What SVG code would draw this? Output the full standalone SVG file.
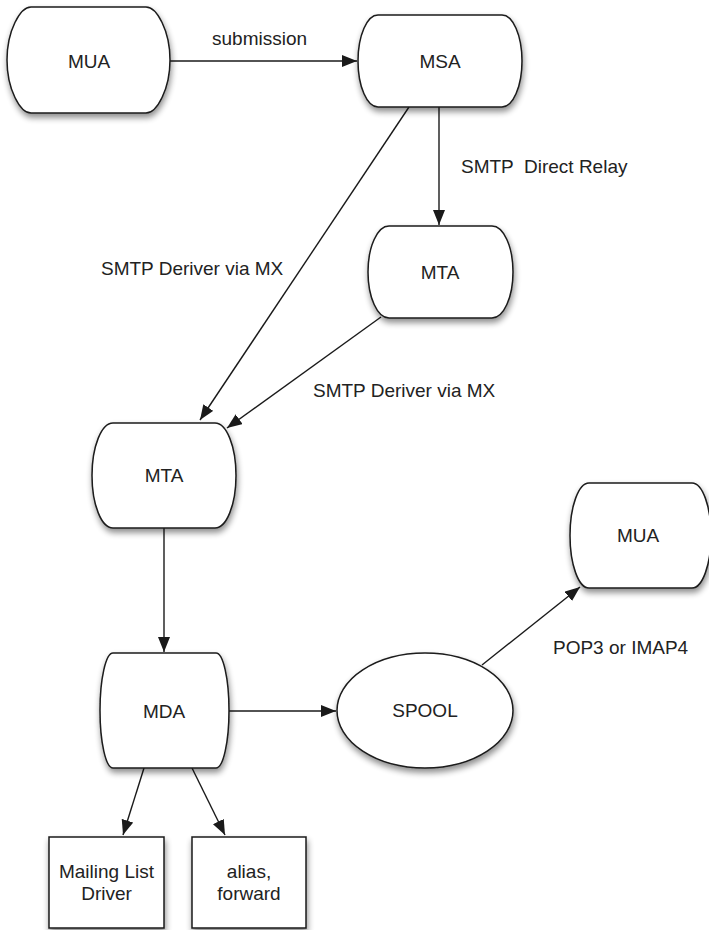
<svg xmlns="http://www.w3.org/2000/svg" width="709" height="930" viewBox="0 0 709 930">
<style>
.n{fill:#fff;stroke:#1a1a1a;stroke-width:1.5;filter:url(#sh)}
.t{font-family:"Liberation Sans",Arial,sans-serif;font-size:19px;fill:#222;text-anchor:middle}
.l{font-family:"Liberation Sans",Arial,sans-serif;font-size:19px;fill:#222}
.c{fill:none;stroke:#1a1a1a;stroke-width:1.4;marker-end:url(#ah)}
</style>
<defs>
<filter id="sh" x="-20%" y="-20%" width="140%" height="150%">
<feGaussianBlur in="SourceAlpha" stdDeviation="3"/>
<feOffset dx="1" dy="4" result="b"/>
<feComponentTransfer><feFuncA type="linear" slope="0.45"/></feComponentTransfer>
<feMerge><feMergeNode/><feMergeNode in="SourceGraphic"/></feMerge>
</filter>
<marker id="ah" markerUnits="userSpaceOnUse" markerWidth="16" markerHeight="13" refX="15" refY="6" orient="auto">
<path d="M0,0 L15,6 L0,12 Z" fill="#1a1a1a"/>
</marker>
</defs>
<rect width="709" height="930" fill="#fff"/>
<g id="connectors">
<line class="c" x1="170" y1="61" x2="357" y2="61"/>
<line class="c" x1="439" y1="107" x2="439" y2="225"/>
<line class="c" x1="409" y1="107" x2="200" y2="420"/>
<line class="c" x1="381" y1="317" x2="227" y2="428"/>
<line class="c" x1="164" y1="528" x2="164" y2="652"/>
<line class="c" x1="229" y1="711" x2="336" y2="711"/>
<line class="c" x1="482" y1="665" x2="580" y2="587"/>
<line class="c" x1="144" y1="768" x2="123" y2="835"/>
<line class="c" x1="192" y1="768" x2="225" y2="835"/>
</g>
<g id="mua1">
<path class="n" d="M31,7 H146 C156.8,7 170,30.7 170,60 C170,89.3 156.8,113 146,113 H31 C20.2,113 7,89.3 7,60 C7,30.7 20.2,7 31,7 Z"/>
<text class="t" x="89" y="68">MUA</text>
</g>
<g id="msa">
<path class="n" d="M378,15 H502 C513,15 522,35.6 522,61 C522,86.4 513,107 502,107 H378 C367,107 358,86.4 358,61 C358,35.6 367,15 378,15 Z"/>
<text class="t" x="440" y="68">MSA</text>
</g>
<g id="mta1">
<path class="n" d="M389,226 H492 C503.6,226 513,246.6 513,272 C513,297.4 503.6,318 492,318 H389 C377.4,318 368,297.4 368,272 C368,246.6 377.4,226 389,226 Z"/>
<text class="t" x="440" y="279">MTA</text>
</g>
<g id="mta2">
<path class="n" d="M113,423 H215 C226.6,423 236,446.5 236,475.5 C236,504.5 226.6,528 215,528 H113 C101.4,528 92,504.5 92,475.5 C92,446.5 101.4,423 113,423 Z"/>
<text class="t" x="164" y="482">MTA</text>
</g>
<g id="mda">
<path class="n" d="M113,653 H216 C223.2,653 229,678.8 229,710.5 C229,742.2 223.2,768 216,768 H113 C105.8,768 100,742.2 100,710.5 C100,678.8 105.8,653 113,653 Z"/>
<text class="t" x="164" y="718">MDA</text>
</g>
<g id="spool">
<ellipse class="n" cx="425" cy="710.5" rx="88" ry="57.5"/>
<text class="t" x="425" y="717">SPOOL</text>
</g>
<g id="mua2">
<path class="n" d="M589,483 H692 C702.5,483 711,506.5 711,535.5 C711,564.5 702.5,588 692,588 H589 C578.5,588 570,564.5 570,535.5 C570,506.5 578.5,483 589,483 Z"/>
<text class="t" x="638" y="542">MUA</text>
</g>
<g id="mailing">
<rect class="n" x="49" y="837" width="115" height="91"/>
<text class="t" x="106.5" y="878">Mailing List</text>
<text class="t" x="106.5" y="900">Driver</text>
</g>
<g id="alias">
<rect class="n" x="192" y="837" width="114" height="91"/>
<text class="t" x="249" y="878">alias,</text>
<text class="t" x="249" y="900">forward</text>
</g>
<g id="labels">
<text class="l" x="212" y="45">submission</text>
<text class="l" x="461" y="173" xml:space="preserve">SMTP  Direct Relay</text>
<text class="l" x="101" y="275">SMTP Deriver via MX</text>
<text class="l" x="313" y="397">SMTP Deriver via MX</text>
<text class="l" x="553" y="654">POP3 or IMAP4</text>
</g>
</svg>
